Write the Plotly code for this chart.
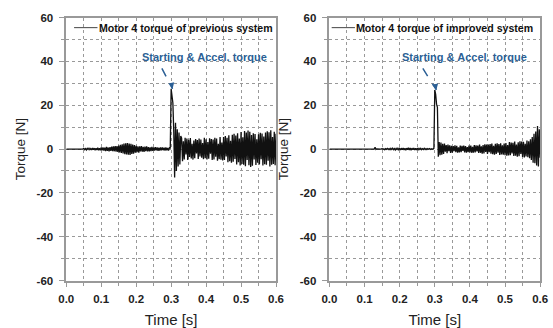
import numpy as np
import plotly.graph_objects as go
from plotly.subplots import make_subplots

# ---------------- data (time step 0.0025 s, 0 .. 0.6 s) ----------------
prev_torque = [
    # 0.000-0.0475
    0, 0, 0, 0.1, 0, -0.1, 0, 0.1, 0, 0, 0, -0.1, 0.1, 0, 0, 0.1, -0.1, 0, 0.1, 0,
    # 0.05-0.0975
    0.3, -0.3, 0.2, -0.4, 0.3, -0.2, 0.4, -0.3, 0.2, -0.4, 0.5, -0.3, 0.4, -0.5, 0.3, -0.4, 0.6, -0.5, 0.4, -0.6,
    # 0.10-0.1475
    0.7, -0.6, 0.8, -0.7, 0.6, -0.9, 1.0, -0.8, 0.7, -1.0, 0.9, -0.8, 1.1, -0.9, 1.2, -1.0, 1.3, -1.2, 1.4, -1.3,
    # 0.15-0.1975
    1.6, -1.5, 1.9, -1.8, 2.2, -2.0, 2.5, -2.3, 2.6, -2.4, 2.8, -2.6, 2.5, -2.7, 2.4, -2.2, 2.0, -2.1, 1.8, -1.6,
    # 0.20-0.2475
    1.5, -1.4, 1.3, -1.6, 1.2, -1.1, 1.4, -1.2, 1.0, -1.3, 1.1, -0.9, 1.2, -1.0, 0.9, -1.1, 0.8, -0.9, 1.0, -0.8,
    # 0.25-0.2975
    0.8, -0.7, 0.9, -0.6, 0.7, -0.8, 0.6, -0.7, 0.8, -0.6, 0.7, -0.5, 0.6, -0.7, 0.8, -0.6, 0.5, -0.7, 0.6, 0.5,
    # 0.30-0.3475
    27.5, 24.5, 21.0, 8.0, -13.0, 12.0, -10.0, 9.0, -8.0, 7.5, -7.0, 6.0, 5.0, -5.5, 3.5, -4.8, 5.2, -2.5, 4.8, -5.0,
    # 0.35-0.3975
    4.2, -3.6, 5.0, -4.3, 2.4, -4.8, 3.9, -4.2, 4.6, -2.0, 4.1, -4.5, 4.8, -3.4, 4.3, -3.9, 2.7, -4.6, 5.1, -4.2,
    # 0.40-0.4475
    4.5, -4.8, 3.2, -4.4, 4.9, -2.1, 4.6, -5.0, 4.3, -4.7, 5.2, -3.5, 4.8, -5.3, 2.4, -4.6, 5.5, -4.9, 3.0, -5.2,
    # 0.45-0.4975
    5.5, -5.0, 6.0, -3.4, 5.2, -6.0, 6.3, -5.5, 3.8, -6.2, 6.5, -5.8, 7.0, -4.5, 6.2, -7.0, 7.2, -6.0, 4.8, -7.5,
    # 0.50-0.5475
    7.8, -6.8, 5.4, -7.2, 8.2, -7.8, 7.5, -5.0, 8.5, -7.4, 7.9, -8.2, 6.4, -7.6, 7.2, -4.8, 6.9, -7.3, 4.5, -6.2,
    # 0.55-0.6
    6.8, -7.0, 7.4, -4.6, 7.1, -7.5, 5.7, -6.9, 7.6, -7.1, 8.1, -5.3, 7.7, -8.0, 8.6, -7.2, 5.5, -6.8, 7.9, -7.4, 7.0,
]

impr_torque = [
    # 0.000-0.0475
    0, 0, 0, 0, 0, 0, 0, 0, 0, 0, 0, 0, 0, 0, 0, 0, 0, 0, 0, 0,
    # 0.05-0.0975
    0, 0, 0, 0, 0, 0, 0, 0, 0, 0, 0, 0, 0, 0, 0, 0, 0, 0, 0, 0,
    # 0.10-0.1475
    0, 0, 0, 0, 0, 0, 0, 0, 0, 0, 0, 0, 0.8, -0.2, 0.1, 0, 0, 0.1, 0, 0,
    # 0.15-0.1975
    0.2, -0.2, 0.1, -0.3, 0.2, -0.1, 0.3, -0.2, 0.2, -0.3, 0.3, -0.2, 0.4, -0.3, 0.2, -0.4, 0.3, -0.2, 0.4, -0.3,
    # 0.20-0.2475
    0.3, -0.4, 0.4, -0.3, 0.5, -0.4, 0.3, -0.5, 0.4, -0.3, 0.6, -0.4, 0.5, -0.5, 0.4, -0.3, 0.5, -0.4, 0.3, -0.4,
    # 0.25-0.2975
    0.4, -0.3, 0.3, -0.2, 0.3, -0.3, 0.2, -0.2, 0.3, -0.2, 0.2, -0.2, 0.2, -0.1, 0.2, -0.2, 0.1, -0.1, 0.1, 0.3,
    # 0.30-0.3475
    27.0, 25.0, 20.5, 19.0, -3.5, 3.2, -2.8, 3.0, -2.6, 2.4, -2.2, 2.5, -1.2, 1.8, -1.9, 2.0, -1.0, 1.7, -1.8, 1.5,
    # 0.35-0.3975
    -1.6, 1.4, -0.9, 1.7, -1.4, 1.5, -1.6, 0.8, -1.5, 1.6, -1.4, 1.5, -0.8, 1.6, -1.5, 1.4, -1.6, 0.9, -1.4, 1.6,
    # 0.40-0.4475
    -1.5, 1.6, -1.7, 1.0, -1.6, 1.8, -1.5, 1.7, -1.1, 1.6, -1.8, 2.0, -1.7, 1.2, -2.1, 1.8, -2.0, 2.2, -1.3, 2.1,
    # 0.45-0.4975
    -2.2, 2.0, -1.4, 2.3, -2.1, 2.5, -2.3, 1.5, -2.6, 2.4, -2.2, 2.6, -1.6, 2.3, -2.7, 2.6, -2.4, 1.7, -2.6, 2.5,
    # 0.50-0.5475
    -2.8, 2.7, -3.0, 1.8, -2.9, 3.2, -2.8, 3.0, -2.0, 2.9, -3.1, 3.4, -3.0, 2.1, -3.5, 3.1, -3.3, 3.6, -2.2, 3.4,
    # 0.55-0.6
    -3.6, 3.3, -3.8, 2.4, -3.4, 3.9, -3.7, 3.6, -4.2, 4.5, -5.0, 5.5, -6.2, 7.0, -6.5, 8.0, -7.5, 10.5, -8.0, 9.0, -4.0,
]

t_prev = np.linspace(0.0, 0.6, len(prev_torque))
t_impr = np.linspace(0.0, 0.6, len(impr_torque))

legend_labels = ["Motor 4 torque of previous system", "Motor 4 torque of improved system"]
annot_text = "Starting & Accel. torque"
x_ticks = [0.0, 0.1, 0.2, 0.3, 0.4, 0.5, 0.6]
y_ticks = [-60, -40, -20, 0, 20, 40, 60]

# ---------------- figure ----------------
W, H = 553, 328
fig = make_subplots(rows=1, cols=2)

fig.add_trace(go.Scatter(x=t_prev, y=prev_torque, mode="lines",
                         line=dict(color="#111111", width=1.3), showlegend=False), 1, 1)
fig.add_trace(go.Scatter(x=t_impr, y=impr_torque, mode="lines",
                         line=dict(color="#111111", width=1.3), showlegend=False), 1, 2)

ydom = [1 - 285 / H, 1 - 12 / H]
xdoms = [[60 / W, 276 / W], [331 / W, 548 / W]]

tickfont = dict(family="Arial", size=11.5, color="#222222")
xtitlefont = dict(family="Arial", size=15, color="#222222")
ytitlefont = dict(family="Arial", size=13.5, color="#222222")

common_x = dict(range=[0, 0.6], tickvals=x_ticks, ticktext=[f"<b>{v:.1f}</b>" for v in x_ticks],
                ticks="outside", ticklen=5, tickcolor="#999999", tickwidth=1,
                showline=True, linecolor="#999999", linewidth=1.5, mirror=True,
                showgrid=True, gridcolor="#999999", gridwidth=1, griddash="dot",
                minor=dict(dtick=0.05, tick0=0, ticks="outside", ticklen=4, tickcolor="#999999",
                           showgrid=True, gridcolor="#999999", griddash="dot"),
                zeroline=False, tickfont=tickfont, ticklabelstandoff=2,
                title=dict(text="Time [s]", font=xtitlefont, standoff=10))
common_y = dict(range=[-60, 60], tickvals=y_ticks, ticktext=[f"<b>{v:d}</b>" for v in y_ticks],
                ticks="outside", ticklen=6, tickcolor="#999999", tickwidth=1,
                showline=True, linecolor="#999999", linewidth=1.5, mirror=True,
                showgrid=True, gridcolor="#999999", gridwidth=1, griddash="dot",
                minor=dict(dtick=10, tick0=0, ticks="outside", ticklen=4, tickcolor="#999999",
                           showgrid=True, gridcolor="#999999", griddash="dot"),
                zeroline=False, tickfont=tickfont, ticklabelstandoff=3,
                title=dict(text="Torque [N]", font=ytitlefont, standoff=8))

fig.update_xaxes(**common_x)
fig.update_yaxes(**common_y)
fig.update_layout(xaxis=dict(domain=xdoms[0]), xaxis2=dict(domain=xdoms[1]),
                  yaxis=dict(domain=ydom), yaxis2=dict(domain=ydom))

blue = "#2b5f95"
leg_line = [(0.0223, 0.0893, 0.092), (0.0064, 0.0726, 0.073)]
arrow = [((0.2735, 36.8), (0.304, 27.5)), ((0.266, 36.8), (0.3045, 27.0))]
txt_x = [0.395, 0.386]
for k, (xr, yr) in enumerate([("x", "y"), ("x2", "y2")]):
    x0, x1, xt = leg_line[k]
    fig.add_shape(type="line", xref=xr, yref=yr, x0=x0, x1=x1, y0=55.4, y1=55.4,
                  line=dict(color="#444444", width=1))
    fig.add_annotation(xref=xr, yref=yr, x=xt, y=55.4, text=legend_labels[k], showarrow=False,
                       xanchor="left", yanchor="middle", borderpad=0,
                       font=dict(family="Arial", size=10.6, color="#111111", weight="bold"))
    fig.add_annotation(xref=xr, yref=yr, x=txt_x[k], y=42.1, text=annot_text, showarrow=False,
                       xanchor="center", yanchor="middle",
                       font=dict(family="Arial", size=11, color=blue, weight="bold"))
    (ax0, ay0), (ax1, ay1) = arrow[k]
    fig.add_shape(type="line", xref=xr, yref=yr, x0=ax0, y0=ay0, x1=ax1, y1=ay1,
                  line=dict(color=blue, width=1.5, dash="dash"))
    fig.add_annotation(xref=xr, yref=yr, x=ax1, y=ay1, ax=ax1 - 0.004, ay=ay1 + 3.0,
                       axref=xr, ayref=yr, text="", showarrow=True, arrowhead=2,
                       arrowsize=0.8, arrowwidth=1.5, arrowcolor=blue)

fig.update_layout(width=W, height=H, margin=dict(l=0, r=0, t=0, b=0),
                  paper_bgcolor="white", plot_bgcolor="white", showlegend=False)

fig.write_html("out.html")
